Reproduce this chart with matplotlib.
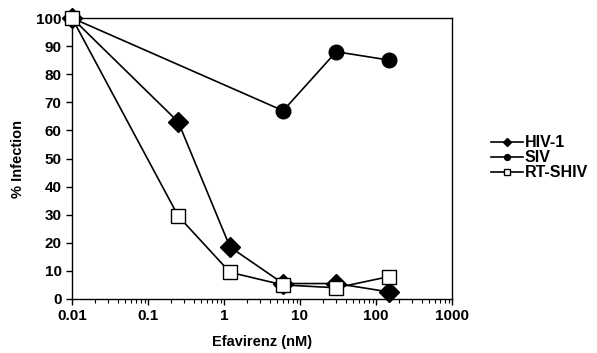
import matplotlib
matplotlib.use("Agg")
import matplotlib.pyplot as plt
from matplotlib.ticker import LogLocator, FixedLocator, NullFormatter

plt.rcParams['font.family'] = ['Liberation Sans', 'DejaVu Sans']
plt.rcParams['font.weight'] = 'bold'

hiv_x = [0.01, 0.25, 1.2, 6, 30, 150]
hiv_y = [100, 63, 18.5, 5.5, 5.5, 2.5]
siv_x = [0.01, 6, 30, 150]
siv_y = [100, 67, 88, 85]
shiv_x = [0.01, 0.25, 1.2, 6, 30, 150]
shiv_y = [100, 29.5, 9.5, 5, 4, 8]
xticks = [0.01, 0.1, 1, 10, 100, 1000]
xticklabels = ['0.01', '0.1', '1', '10', '100', '1000']
yticks = list(range(0, 101, 10))

fig = plt.figure(figsize=(5.97, 3.53), dpi=100)
ax = fig.add_axes([72/597, 54/353, 380/597, 281/353])

l1, = ax.plot(hiv_x, hiv_y, color='black', lw=1.2, marker='D', markersize=10,
              markerfacecolor='black', label='HIV-1', zorder=3, clip_on=False)
l2, = ax.plot(siv_x, siv_y, color='black', lw=1.2, marker='o', markersize=10.5,
              markerfacecolor='black', label='SIV', zorder=2, clip_on=False)
l3, = ax.plot(shiv_x, shiv_y, color='black', lw=1.2, marker='s', markersize=10.5,
              markerfacecolor='white', markeredgewidth=1.0, label='RT-SHIV', zorder=4,
              clip_on=False)

ax.set_xscale('log')
ax.set_xlim(0.01, 1000)
ax.set_ylim(0, 100)
ax.xaxis.set_major_locator(FixedLocator(xticks))
ax.set_xticklabels(xticklabels)
ax.xaxis.set_minor_locator(LogLocator(base=10, subs=range(2, 10)))
ax.xaxis.set_minor_formatter(NullFormatter())
ax.set_yticks(yticks)
ax.tick_params(axis='both', which='major', labelsize=11, direction='out', length=4, width=1)
ax.tick_params(axis='x', which='minor', direction='out', length=3, width=0.8)
ax.tick_params(axis='y', which='minor', left=False)
for lab in ax.get_xticklabels() + ax.get_yticklabels():
    lab.set_fontweight('bold')
for s in ax.spines.values():
    s.set_linewidth(1.0)

ax.set_xlabel('Efavirenz (nM)', fontsize=10.5, fontweight='bold', labelpad=8)
ax.set_ylabel('% Infection', fontsize=10.5, fontweight='bold', labelpad=8)

leg = fig.legend(handles=[l1, l2, l3], loc='center left', bbox_to_anchor=(0.812, 0.553),
                 frameon=False, fontsize=11.5, markerscale=0.4, handlelength=2.0,
                 handletextpad=0.1, labelspacing=0.0, borderaxespad=0.0)
for t in leg.get_texts():
    t.set_fontweight('bold')

fig.savefig('out.png', dpi=100)
